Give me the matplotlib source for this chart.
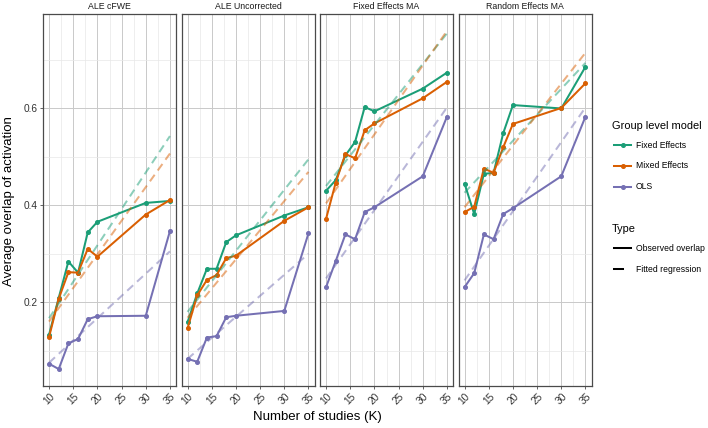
import matplotlib
matplotlib.use("Agg")
import matplotlib.pyplot as plt
from matplotlib.lines import Line2D
from matplotlib.ticker import MultipleLocator

plt.rcParams['font.family'] = ['Liberation Sans', 'DejaVu Sans']

# ---------------- data ----------------
K = [10, 12, 14, 16, 18, 20, 30, 35]
K_fit = [10, 35]
panels = ["ALE cFWE", "ALE Uncorrected", "Fixed Effects MA", "Random Effects MA"]
models = ["Fixed Effects", "Mixed Effects", "OLS"]
colors = ["#1b9e77", "#d95f02", "#7570b3"]

cfwe_fixed = [0.133, 0.209, 0.284, 0.261, 0.344, 0.366, 0.405, 0.409]
cfwe_mixed = [0.128, 0.207, 0.262, 0.261, 0.310, 0.294, 0.381, 0.411]
cfwe_ols = [0.073, 0.062, 0.115, 0.124, 0.165, 0.171, 0.172, 0.347]
cfwe_fit_fixed = [0.167, 0.543]
cfwe_fit_mixed = [0.160, 0.507]
cfwe_fit_ols = [0.075, 0.305]

unc_fixed = [0.159, 0.218, 0.269, 0.269, 0.324, 0.338, 0.379, 0.396]
unc_mixed = [0.146, 0.214, 0.246, 0.256, 0.291, 0.296, 0.368, 0.396]
unc_ols = [0.083, 0.077, 0.127, 0.130, 0.169, 0.172, 0.182, 0.342]
unc_fit_fixed = [0.180, 0.495]
unc_fit_mixed = [0.168, 0.469]
unc_fit_ols = [0.083, 0.300]

fe_fixed = [0.430, 0.452, 0.503, 0.531, 0.603, 0.594, 0.641, 0.674]
fe_mixed = [0.372, 0.447, 0.506, 0.497, 0.555, 0.569, 0.621, 0.655]
fe_ols = [0.231, 0.285, 0.340, 0.330, 0.386, 0.396, 0.460, 0.583]
fe_fit_fixed = [0.440, 0.755]
fe_fit_mixed = [0.404, 0.760]
fe_fit_ols = [0.249, 0.602]

re_fixed = [0.445, 0.382, 0.465, 0.467, 0.549, 0.607, 0.600, 0.686]
re_mixed = [0.386, 0.397, 0.476, 0.467, 0.520, 0.568, 0.601, 0.652]
re_ols = [0.231, 0.260, 0.340, 0.330, 0.382, 0.394, 0.460, 0.583]
re_fit_fixed = [0.426, 0.694]
re_fit_mixed = [0.396, 0.715]
re_fit_ols = [0.245, 0.602]

observed = [
    [cfwe_fixed, cfwe_mixed, cfwe_ols],
    [unc_fixed, unc_mixed, unc_ols],
    [fe_fixed, fe_mixed, fe_ols],
    [re_fixed, re_mixed, re_ols],
]
fitted = [
    [cfwe_fit_fixed, cfwe_fit_mixed, cfwe_fit_ols],
    [unc_fit_fixed, unc_fit_mixed, unc_fit_ols],
    [fe_fit_fixed, fe_fit_mixed, fe_fit_ols],
    [re_fit_fixed, re_fit_mixed, re_fit_ols],
]
x_ticks = [10, 15, 20, 25, 30, 35]
y_ticks = [0.2, 0.4, 0.6]

# ---------------- figure ----------------
W, H = 708, 428
fig = plt.figure(figsize=(W / 100, H / 100), dpi=100)


def fx(px):
    return px / W


def fy(py):
    return 1 - py / H


panel_left = [43, 181.5, 320, 458.5]
panel_w = 133
top, bottom = 14, 386

grid_major = "#c9c9c9"
grid_minor = "#e8e8e8"
border = "#4a4a4a"

for i, name in enumerate(panels):
    ax = fig.add_axes([fx(panel_left[i]), fy(bottom), fx(panel_w), (bottom - top) / H])
    ax.set_xlim(8.75, 36.25)
    ax.set_ylim(0.027, 0.795)
    ax.set_xticks(x_ticks)
    ax.xaxis.set_minor_locator(MultipleLocator(2.5))
    ax.set_yticks(y_ticks)
    ax.yaxis.set_minor_locator(MultipleLocator(0.1))
    ax.grid(which="major", color=grid_major, lw=0.7)
    ax.grid(which="minor", color=grid_minor, lw=0.5)
    ax.set_axisbelow(True)
    for sp in ax.spines.values():
        sp.set_color(border)
        sp.set_linewidth(0.9)
    ax.tick_params(which="minor", length=0)
    ax.tick_params(which="major", length=2.5, width=0.6, color=border,
                   labelsize=7.3, labelcolor="#333333", pad=1.5)
    ax.set_xticklabels([str(t) for t in x_ticks], rotation=45, ha="center")
    if i == 0:
        ax.set_yticklabels([f"{t:.1f}" for t in y_ticks])
    else:
        ax.tick_params(axis="y", which="both", left=False, labelleft=False)
    for j in range(3):
        ax.plot(K, observed[i][j], color=colors[j], lw=1.45, marker="o",
                markersize=2.6, solid_joinstyle="round", zorder=3)
    for j in range(3):
        ax.plot(K_fit, fitted[i][j], color=colors[j], lw=1.45, alpha=0.5,
                dashes=(4, 2.6), zorder=4)
    fig.text(fx(panel_left[i] + panel_w / 2), fy(6.5), name, ha="center",
             va="center", fontsize=6.3, color="#1a1a1a")

# axis titles
fig.text(fx(317), fy(417), "Number of studies (K)", ha="center", va="center",
         fontsize=9.5)
fig.text(fx(9), fy(201), "Average overlap of activation", ha="center",
         va="center", rotation=90, fontsize=9.5)

# ---------------- legend ----------------
fig.text(fx(611.5), fy(125.7), "Group level model", ha="left", va="center",
         fontsize=7.9)
for j, (m, c) in enumerate(zip(models, colors)):
    yy = [145, 165.7, 186.7][j]
    fig.add_artist(Line2D([fx(614.3), fx(630.7)], [fy(yy), fy(yy)], color=c,
                          lw=1.45, transform=fig.transFigure))
    fig.add_artist(Line2D([fx(622.5)], [fy(yy)], color=c, marker="o",
                          markersize=2.6, transform=fig.transFigure))
    fig.text(fx(636), fy(yy), m, ha="left", va="center", fontsize=6.2)

fig.text(fx(611.5), fy(229.3), "Type", ha="left", va="center", fontsize=7.9)
fig.add_artist(Line2D([fx(614.3), fx(630.7)], [fy(248.3), fy(248.3)],
                      color="black", lw=1.45, transform=fig.transFigure))
fig.text(fx(636), fy(248.3), "Observed overlap", ha="left", va="center",
         fontsize=6.2)
fig.add_artist(Line2D([fx(614.3), fx(622.5)], [fy(269.3), fy(269.3)],
                      color="black", lw=1.45, transform=fig.transFigure))
fig.text(fx(636), fy(269.3), "Fitted regression", ha="left", va="center",
         fontsize=6.2)

fig.savefig("out.png", dpi=100)
